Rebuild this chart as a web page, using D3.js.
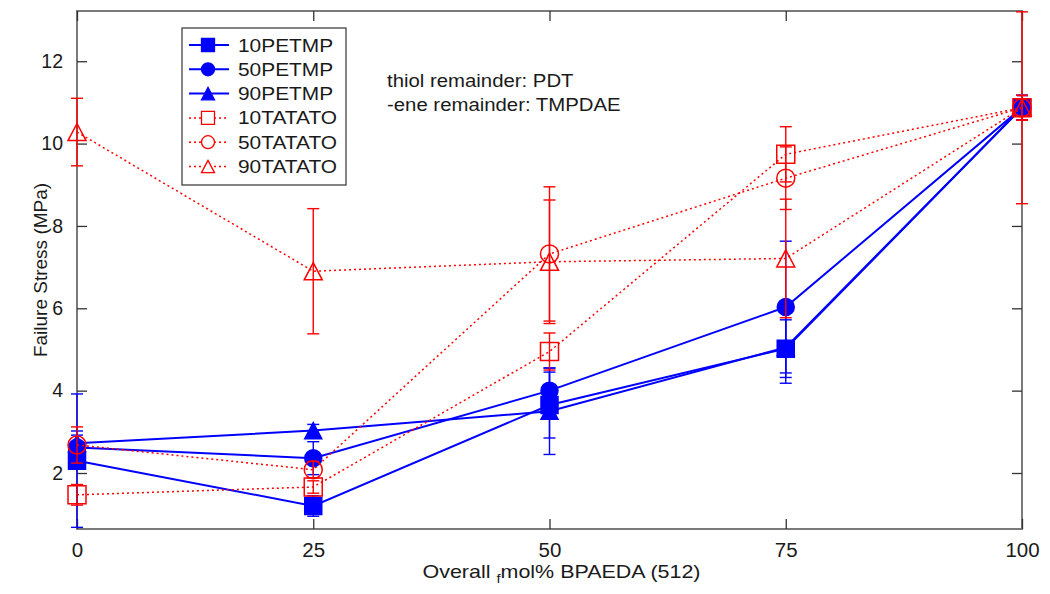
<html>
<head>
<script src="https://d3js.org/d3.v7.min.js"></script>
<style>
  body { margin: 0; background: #fff; }
  text { font-family: "Liberation Sans", Arial, sans-serif; fill: #1a1a1a; }
</style>
</head>
<body>
<svg id="chart"></svg>
<script>

var width = 1050,
    height = 594;

// x positions (overall fmol% BPAEDA)
var xs = [0, 25, 50, 75, 100];
var xTicks = [0, 25, 50, 75, 100];
var yTicks = [2, 4, 6, 8, 10, 12];

var seriesNames = ["10PETMP", "50PETMP", "90PETMP", "10TATATO", "50TATATO", "90TATATO"];

// mean failure stress (MPa)
var p10 = [2.30, 1.20, 3.65, 5.02, 10.87];
var p50 = [2.62, 2.36, 4.00, 6.03, 10.87];
var p90 = [2.72, 3.03, 3.50, 5.05, 10.87];
var t10 = [1.47, 1.66, 4.95, 9.74, 10.87];
var t50 = [2.68, 2.08, 7.32, 9.16, 10.87];
var t90 = [10.28, 6.90, 7.13, 7.21, 10.87];

// error bar half widths (MPa)
var p10Err = [1.62, 0.25, 0.80, 0.70, 0.30];
var p50Err = [0.30, 0.40, 0.55, 1.60, 0.30];
var p90Err = [0.30, 0.15, 1.05, 0.87, 0.30];
var t10Err = [0.25, 0.15, 0.45, 0.67, 2.33];
var t50Err = [0.44, 0.20, 1.63, 0.76, 0.30];
var t90Err = [0.82, 1.52, 1.50, 1.44, 0.30];

var blue = "#0000ff", red = "#ff0000";

var series = [
    {name: seriesNames[0], values: p10, err: p10Err, color: blue, marker: "square", filled: true},
    {name: seriesNames[1], values: p50, err: p50Err, color: blue, marker: "circle", filled: true},
    {name: seriesNames[2], values: p90, err: p90Err, color: blue, marker: "triangle", filled: true},
    {name: seriesNames[3], values: t10, err: t10Err, color: red, marker: "square", filled: false},
    {name: seriesNames[4], values: t50, err: t50Err, color: red, marker: "circle", filled: false},
    {name: seriesNames[5], values: t90, err: t90Err, color: red, marker: "triangle", filled: false}
];

var margin = {left: 77, right: 28, top: 11, bottom: 65};
var stretch = 1.13;   // text in the original is a little wider than Arial

var x = d3.scaleLinear()
    .domain([0, 100])
    .range([margin.left, width - margin.right]);

var y = d3.scaleLinear()
    .domain([0.64, 13.22])
    .range([height - margin.bottom, margin.top]);

var svg = d3.select("#chart")
    .attr("width", width)
    .attr("height", height);

// axes box
var axisColor = "#7a7a7a";
svg.append("rect")
    .attr("x", x(0)).attr("y", y(13.22))
    .attr("width", x(100) - x(0)).attr("height", y(0.64) - y(13.22))
    .attr("fill", "none")
    .attr("stroke", axisColor)
    .attr("stroke-width", 2);

var bottomAxis = d3.axisBottom(x).tickValues(xTicks).tickSizeInner(-10).tickSizeOuter(0).tickPadding(13);
var leftAxis = d3.axisLeft(y).tickValues(yTicks).tickSizeInner(-10).tickSizeOuter(0).tickPadding(14);

var gx = svg.append("g")
    .attr("transform", "translate(0," + y(0.64) + ")")
    .call(bottomAxis);
var gy = svg.append("g")
    .attr("transform", "translate(" + x(0) + ",0)")
    .call(leftAxis);
// mirrored ticks on top / right
svg.append("g")
    .attr("transform", "translate(0," + y(13.22) + ")")
    .call(d3.axisTop(x).tickValues(xTicks).tickSizeInner(-10).tickSizeOuter(0).tickFormat(""));
svg.append("g")
    .attr("transform", "translate(" + x(100) + ",0)")
    .call(d3.axisRight(y).tickValues(yTicks).tickSizeInner(-10).tickSizeOuter(0).tickFormat(""));

svg.selectAll(".domain").remove();
svg.selectAll(".tick line").attr("stroke", "#333").attr("stroke-width", 1.3);
svg.selectAll(".tick text")
    .style("font-size", "19.5px")
    .style("font-family", "'Liberation Sans', Arial, sans-serif")
    .attr("fill", "#1a1a1a");
gx.selectAll(".tick text").style("font-size", "20.5px");

// axis titles
var xt = svg.append("text")
    .attr("transform", "translate(" + (x(50) + 12) + ",578) scale(" + stretch + ",1)")
    .attr("text-anchor", "middle")
    .style("font-size", "19px");
xt.append("tspan").text("Overall ");
xt.append("tspan").text("f").attr("dy", 5).style("font-size", "13px");
xt.append("tspan").text("mol% BPAEDA (512)").attr("dy", -5);

svg.append("text")
    .attr("transform", "translate(47," + y(6.93) + ") rotate(-90)")
    .attr("text-anchor", "middle")
    .style("font-size", "19px")
    .text("Failure Stress (MPa)");

// annotation
svg.append("text").attr("transform", "translate(387,87) scale(" + 1.1 + ",1)")
    .style("font-size", "18.5px").text("thiol remainder: PDT");
svg.append("text").attr("transform", "translate(387,111) scale(" + 1.1 + ",1)")
    .style("font-size", "18.5px").text("-ene remainder: TMPDAE");

function markerPath(type, s) {
    if (type === "square") return "M" + (-s/2) + "," + (-s/2) + "h" + s + "v" + s + "h" + (-s) + "Z";
    if (type === "circle") return d3.symbol(d3.symbolCircle, Math.PI * s * s / 4)();
    var h = s * 0.95;
    return "M0," + (-h/2) + "L" + (s/2) + "," + (h/2) + "L" + (-s/2) + "," + (h/2) + "Z";
}

var line = d3.line()
    .x(function(d, i) { return x(xs[i]); })
    .y(function(d) { return y(d); });

var cap = 6;

series.forEach(function(s) {
    var g = svg.append("g").attr("class", "series");
    var dotted = !s.filled;

    // error bars
    var eb = g.selectAll(".eb").data(s.values).enter().append("g")
        .attr("stroke", s.color)
        .attr("stroke-width", 1.4);
    eb.append("line")
        .attr("x1", function(d, i) { return x(xs[i]); })
        .attr("x2", function(d, i) { return x(xs[i]); })
        .attr("y1", function(d, i) { return y(d - s.err[i]); })
        .attr("y2", function(d, i) { return y(d + s.err[i]); });
    eb.append("line")
        .attr("x1", function(d, i) { return x(xs[i]) - cap; })
        .attr("x2", function(d, i) { return x(xs[i]) + cap; })
        .attr("y1", function(d, i) { return y(d - s.err[i]); })
        .attr("y2", function(d, i) { return y(d - s.err[i]); });
    eb.append("line")
        .attr("x1", function(d, i) { return x(xs[i]) - cap; })
        .attr("x2", function(d, i) { return x(xs[i]) + cap; })
        .attr("y1", function(d, i) { return y(d + s.err[i]); })
        .attr("y2", function(d, i) { return y(d + s.err[i]); });

    g.append("path")
        .datum(s.values)
        .attr("d", line)
        .attr("fill", "none")
        .attr("stroke", s.color)
        .attr("stroke-width", dotted ? 1.5 : 2)
        .attr("stroke-dasharray", dotted ? "2,3" : null);

    g.selectAll(".mk").data(s.values).enter().append("path")
        .attr("transform", function(d, i) { return "translate(" + x(xs[i]) + "," + y(d) + ")"; })
        .attr("d", markerPath(s.marker, s.filled ? 17 : 18))
        .attr("fill", s.filled ? s.color : "none")
        .attr("stroke", s.color)
        .attr("stroke-width", 1.5);
});

// legend
var lg = svg.append("g").attr("transform", "translate(182,28)");
lg.append("rect")
    .attr("width", 164).attr("height", 157)
    .attr("fill", "#fff")
    .attr("stroke", "#333")
    .attr("stroke-width", 1.2);

series.forEach(function(s, i) {
    var ly = 17 + i * 24.3;
    var row = lg.append("g").attr("transform", "translate(0," + ly + ")");
    row.append("line")
        .attr("x1", 7).attr("x2", 47)
        .attr("stroke", s.color)
        .attr("stroke-width", s.filled ? 2 : 1.5)
        .attr("stroke-dasharray", s.filled ? null : "2,3");
    row.append("path")
        .attr("transform", "translate(26,0)")
        .attr("d", markerPath(s.marker, 13))
        .attr("fill", s.filled ? s.color : "#fff")
        .attr("stroke", s.color)
        .attr("stroke-width", 1.3);
    row.append("text")
        .attr("transform", "translate(56,6.5) scale(" + stretch + ",1)")
        .style("font-size", "18.5px")
        .text(s.name);
});

</script>
</body>
</html>
